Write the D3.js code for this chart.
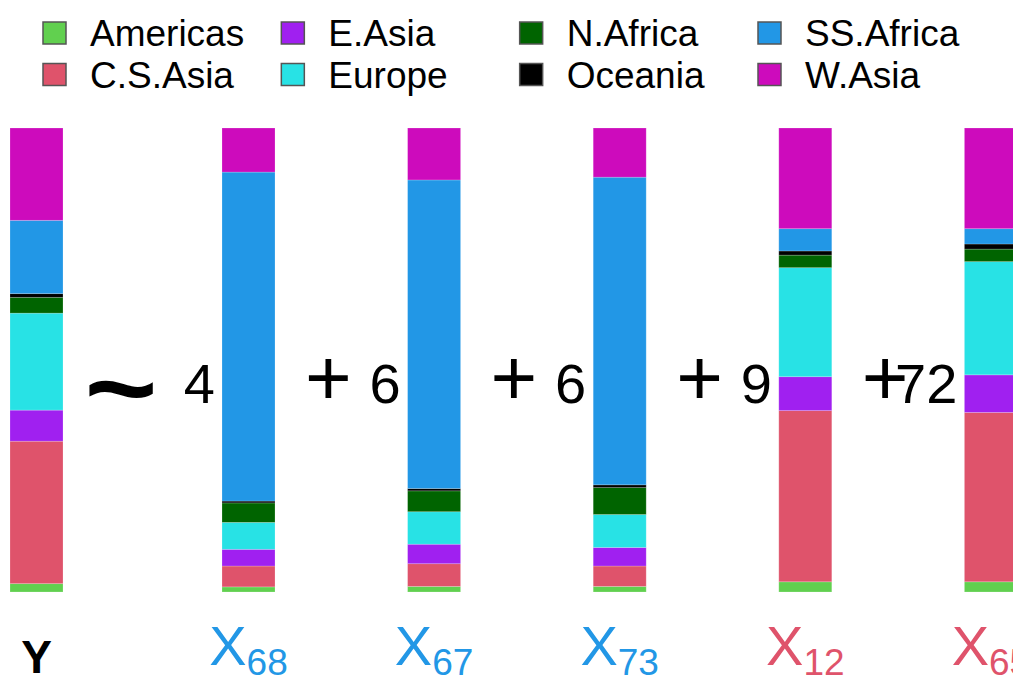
<!DOCTYPE html>
<html>
<head>
<meta charset="utf-8">
<script src="https://cdn.jsdelivr.net/npm/d3@7"></script>
<style>
  html, body { margin: 0; padding: 0; background: #fff; overflow: hidden; }
  svg { display: block; font-family: "Liberation Sans", Arial, Helvetica, sans-serif; }
</style>
</head>
<body>
<svg id="chart" width="1013" height="675"></svg>
<script>
// Ancestry regions (stack order, bottom to top) and their colours
const regions = ["Americas", "C.S.Asia", "E.Asia", "Europe", "N.Africa", "Oceania", "SS.Africa", "W.Asia"];
const regionColors = ["#61D04F", "#DF536B", "#A020F0", "#28E2E5", "#006400", "#000000", "#2297E6", "#CD0BBC"];

// Legend layout order (two rows, four columns)
const legendOrder = ["Americas", "E.Asia", "N.Africa", "SS.Africa", "C.S.Asia", "Europe", "Oceania", "W.Asia"];

// Column names and subscripts
const varNames = ["Y", "X", "X", "X", "X", "X"];
const varSubs  = ["", "68", "67", "73", "12", "65"];

// Mixing coefficients placed before each X column
const coefficients = ["4", "6", "6", "9", "72"];

// Regional composition (%) for each column, in the order of `regions`
const compY   = [1.8, 30.7, 6.7, 20.9, 3.4, 0.8, 15.8, 19.9];
const compX68 = [1.1, 4.5, 3.6, 5.8, 4.2, 0.4, 70.9, 9.5];
const compX67 = [1.2, 4.9, 4.2, 7.0, 4.5, 0.5, 66.5, 11.2];
const compX73 = [1.2, 4.4, 4.0, 7.1, 5.8, 0.6, 66.3, 10.6];
const compX12 = [2.2, 36.9, 7.3, 23.5, 2.7, 0.9, 4.8, 21.7];
const compX65 = [2.2, 36.5, 8.1, 24.4, 2.7, 1.1, 3.3, 21.7];

const compositions = [compY, compX68, compX67, compX73, compX12, compX65];

const svg = d3.select("#chart");
const color = d3.scaleOrdinal().domain(regions).range(regionColors);

// Build one row per column for the stack layout
const rows = compositions.map((c, i) => {
  const r = { idx: i };
  regions.forEach((k, j) => r[k] = c[j]);
  return r;
});
const series = d3.stack().keys(regions)(rows);

// Scales
const barW = 53;
const xCols = d3.scaleLinear().domain([1, 5]).range([222, 964.4]);
const xLeft = i => i === 0 ? 10 : xCols(i);
const y = d3.scaleLinear().domain([0, 100]).range([592, 128]);

// Stacked columns
const bars = svg.append("g");
bars.selectAll("g.layer")
  .data(series)
  .join("g")
  .attr("class", "layer")
  .attr("fill", d => color(d.key))
  .selectAll("rect")
  .data(d => d)
  .join("rect")
  .attr("x", d => xLeft(d.data.idx))
  .attr("y", d => y(d[1]))
  .attr("width", barW)
  .attr("height", d => y(d[0]) - y(d[1]))
  .attr("stroke", "#ffffff")
  .attr("stroke-opacity", 0.25)
  .attr("stroke-width", 0.8);

// Operators and coefficients between columns
const ops = svg.append("g").attr("fill", "#000");
ops.append("text")
  .attr("transform", "translate(121,426) scale(1.25,1.1)")
  .attr("text-anchor", "middle")
  .attr("font-size", 100)
  .attr("font-weight", "bold")
  .text("~");

coefficients.forEach((c, k) => {
  const i = k + 1;
  ops.append("text")
    .attr("x", xLeft(i) - 7)
    .attr("y", 403)
    .attr("text-anchor", "end")
    .attr("font-size", 56)
    .text(c);
  if (k > 0) {
    ops.append("text")
      .attr("x", xLeft(i - 1) + barW + 30)
      .attr("y", 405)
      .attr("text-anchor", "start")
      .attr("font-size", 80)
      .text("+");
  }
});

// Column labels, coloured by each column's dominant region
compositions.forEach((c, i) => {
  const cx = xLeft(i) + barW / 2;
  if (varSubs[i] === "") {
    svg.append("text")
      .attr("x", cx)
      .attr("y", 673)
      .attr("text-anchor", "middle")
      .attr("font-size", 46)
      .attr("font-weight", "bold")
      .attr("fill", "#000")
      .text(varNames[i]);
  } else {
    const dom = regions[d3.maxIndex(c)];
    const t = svg.append("text")
      .attr("x", cx)
      .attr("y", 665)
      .attr("text-anchor", "middle")
      .attr("fill", color(dom));
    t.append("tspan").attr("font-size", 56).text(varNames[i]);
    t.append("tspan").attr("font-size", 37).attr("dy", 10).text(varSubs[i]);
  }
});

// Legend
const legCols = d3.scalePoint().domain([0, 1, 2, 3]).range([43, 758]);
const legRows = d3.scalePoint().domain([0, 1]).range([33, 74.5]);
const legend = svg.append("g");
legendOrder.forEach((name, k) => {
  const col = k % 4, row = Math.floor(k / 4);
  const g = legend.append("g")
    .attr("transform", `translate(${legCols(col)},${legRows(row)})`);
  g.append("rect")
    .attr("x", 0).attr("y", -11)
    .attr("width", 23).attr("height", 22)
    .attr("fill", color(name))
    .attr("stroke", "#555")
    .attr("stroke-width", 1.5);
  g.append("text")
    .attr("x", 47)
    .attr("y", 13)
    .attr("font-size", 37)
    .attr("fill", "#000")
    .text(name);
});
</script>
</body>
</html>
